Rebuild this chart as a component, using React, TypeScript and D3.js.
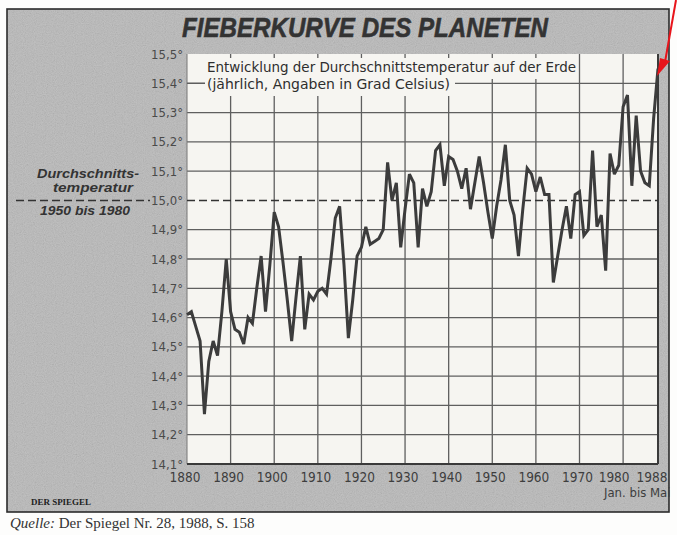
import React, { useRef, useEffect } from 'react';
import * as d3 from 'd3';

// annual mean temperature, 1880 .. 1988 (1988 = Jan. bis Mai)
const startYear = 1880;
const temps = [
  14.61, 14.62, 14.57, 14.52, 14.27, 14.45, 14.52, 14.47, 14.62, 14.80,
  14.62, 14.56, 14.55, 14.51, 14.60, 14.58, 14.70, 14.81, 14.62, 14.78,
  14.96, 14.91, 14.79, 14.66, 14.52, 14.67, 14.81, 14.56, 14.68, 14.66,
  14.69, 14.70, 14.68, 14.80, 14.94, 14.98, 14.78, 14.53, 14.66, 14.81,
  14.84, 14.91, 14.85, 14.86, 14.87, 14.90, 15.13, 15.00, 15.06, 14.84,
  14.97, 15.09, 15.06, 14.84, 15.04, 14.98, 15.03, 15.17, 15.19, 15.05,
  15.15, 15.14, 15.10, 15.04, 15.11, 14.97, 15.06, 15.15, 15.06, 14.96,
  14.87, 14.98, 15.07, 15.19, 15.00, 14.95, 14.81, 14.97, 15.11, 15.09,
  15.03, 15.08, 15.02, 15.02, 14.72, 14.81, 14.90, 14.98, 14.87, 15.02,
  15.03, 14.88, 14.90, 15.17, 14.91, 14.95, 14.76, 15.16, 15.09, 15.12,
  15.32, 15.36, 15.05, 15.29, 15.10, 15.06, 15.05, 15.28, 15.45,
];

const yTicks = [14.1, 14.2, 14.3, 14.4, 14.5, 14.6, 14.7, 14.8, 14.9, 15.0, 15.1, 15.2, 15.3, 15.4, 15.5];
const xTicks = [1880, 1890, 1900, 1910, 1920, 1930, 1940, 1950, 1960, 1970, 1980, 1988];
const gridYears = [1890, 1900, 1910, 1920, 1930, 1940, 1950, 1960, 1970, 1980];
const average = 15.0; // Durchschnitt 1950 bis 1980

const narrow = "'Liberation Sans Narrow', 'Arial Narrow', 'DejaVu Sans Condensed', sans-serif";
const bold = "'Liberation Sans', Arial, sans-serif";

const App: React.FC = () => {
  const ref = useRef<SVGSVGElement | null>(null);

  useEffect(() => {
    if (!ref.current) return;
    const width = 677;
    const height = 535;
    const plot = { left: 187, right: 658, top: 54, bottom: 464 };
    const paper = '#f6f5f1';
    const gridColor = '#5f5f5f';

    const svg = d3.select(ref.current);
    svg.selectAll('*').remove();
    svg.attr('width', width).attr('height', height);

    const x = d3.scaleLinear().domain([1880, 1988]).range([plot.left, plot.right]);
    const y = d3.scaleLinear().domain([14.1, 15.5]).range([plot.bottom, plot.top]);

    // grain for the printed gray panel
    const defs = svg.append('defs');
    const grain = defs.append('filter').attr('id', 'grain').attr('x', 0).attr('y', 0).attr('width', 1).attr('height', 1);
    grain.append('feTurbulence').attr('type', 'fractalNoise').attr('baseFrequency', 0.9).attr('numOctaves', 2).attr('seed', 7);
    grain.append('feColorMatrix').attr('type', 'matrix')
      .attr('values', '0.33 0.33 0.33 0 0  0.33 0.33 0.33 0 0  0.33 0.33 0.33 0 0  0 0 0 0 1');

    svg.append('rect').attr('width', width).attr('height', height).attr('fill', '#fdfdfc');

    // gray panel
    svg.append('rect').attr('x', 7).attr('y', 9).attr('width', 662).attr('height', 503)
      .attr('fill', '#b9b9b9');
    svg.append('rect').attr('x', 7).attr('y', 9).attr('width', 662).attr('height', 503)
      .attr('filter', 'url(#grain)').attr('opacity', 0.25);
    svg.append('rect').attr('x', 7).attr('y', 9).attr('width', 662).attr('height', 503)
      .attr('fill', 'none').attr('stroke', '#2b2b2b').attr('stroke-width', 1.6);

    // plot area
    svg.append('rect').attr('x', plot.left).attr('y', plot.top)
      .attr('width', plot.right - plot.left).attr('height', plot.bottom - plot.top)
      .attr('fill', paper);

    const grid = svg.append('g').attr('stroke', gridColor).attr('stroke-width', 1.3);
    grid.selectAll('line.h')
      .data(yTicks.filter((t) => t > 14.15 && t < 15.45 && Math.abs(t - average) > 0.01))
      .enter().append('line')
      .attr('x1', plot.left).attr('x2', plot.right)
      .attr('y1', (d) => y(d)).attr('y2', (d) => y(d));
    grid.selectAll('line.v')
      .data(gridYears)
      .enter().append('line')
      .attr('x1', (d) => x(d)).attr('x2', (d) => x(d))
      .attr('y1', plot.top).attr('y2', plot.bottom);

    // frame: left light, right and bottom dark
    svg.append('line').attr('x1', plot.left).attr('x2', plot.left).attr('y1', plot.top).attr('y2', plot.bottom)
      .attr('stroke', '#777').attr('stroke-width', 1);
    svg.append('line').attr('x1', plot.right).attr('x2', plot.right).attr('y1', plot.top).attr('y2', plot.bottom)
      .attr('stroke', '#3a3a3a').attr('stroke-width', 2);
    svg.append('line').attr('x1', plot.left).attr('x2', plot.right).attr('y1', plot.bottom).attr('y2', plot.bottom)
      .attr('stroke', '#3a3a3a').attr('stroke-width', 2);

    // white box behind the subtitle
    svg.append('rect').attr('x', 205).attr('y', 58).attr('width', 373).attr('height', 21).attr('fill', paper);
    svg.append('rect').attr('x', 205).attr('y', 78).attr('width', 250).attr('height', 18).attr('fill', paper);
    svg.append('text').attr('x', 207).attr('y', 72)
      .attr('font-family', narrow).attr('font-size', 13.5).attr('fill', '#2e2e2e')
      .attr('textLength', 369).attr('lengthAdjust', 'spacingAndGlyphs')
      .text('Entwicklung der Durchschnittstemperatur auf der Erde');
    svg.append('text').attr('x', 207).attr('y', 88.5)
      .attr('font-family', narrow).attr('font-size', 13.5).attr('fill', '#2e2e2e')
      .attr('textLength', 243).attr('lengthAdjust', 'spacingAndGlyphs')
      .text('(jährlich, Angaben in Grad Celsius)');

    // dashed average line 1950-1980
    const dash = svg.append('g').attr('stroke', '#333').attr('stroke-width', 1.6).attr('stroke-dasharray', '8,4');
    dash.append('line').attr('x1', 16).attr('x2', 150).attr('y1', y(average)).attr('y2', y(average));
    dash.append('line').attr('x1', plot.left).attr('x2', plot.right).attr('y1', y(average)).attr('y2', y(average));

    // temperature curve
    const line = d3.line<number>()
      .x((_, i) => x(startYear + i))
      .y((d) => y(d));
    svg.append('path')
      .datum(temps)
      .attr('fill', 'none')
      .attr('stroke', '#3c3c3c')
      .attr('stroke-width', 3)
      .attr('stroke-linejoin', 'miter')
      .attr('stroke-miterlimit', 3)
      .attr('d', line);

    // y labels
    const fmt = (v: number) => d3.format('.1f')(v).replace('.', ',') + '°';
    svg.append('g').selectAll('text')
      .data(yTicks)
      .enter().append('text')
      .attr('x', 183).attr('y', (d) => y(d) + 4.5)
      .attr('text-anchor', 'end')
      .attr('font-family', narrow).attr('font-size', 13).attr('fill', '#4a4a4a')
      .text(fmt);
    // short tick next to 15,4
    svg.append('line').attr('x1', plot.left).attr('x2', 205).attr('y1', y(15.4)).attr('y2', y(15.4))
      .attr('stroke', gridColor).attr('stroke-width', 1.3);

    // x labels
    svg.append('g').selectAll('text')
      .data(xTicks)
      .enter().append('text')
      .attr('x', (d) => x(d) + (d === 1980 ? -9 : d === 1988 ? -6 : -2))
      .attr('y', 482)
      .attr('text-anchor', 'middle')
      .attr('font-family', narrow).attr('font-size', 13.5).attr('fill', '#3e3e3e')
      .text((d) => String(d));
    svg.append('text').attr('x', 604).attr('y', 497)
      .attr('font-family', narrow).attr('font-size', 13).attr('fill', '#3e3e3e')
      .text('Jan. bis Mai');

    // left annotation
    const note = svg.append('g')
      .attr('font-family', bold)
      .attr('font-weight', 'bold').attr('font-style', 'italic')
      .attr('font-size', 12.5).attr('fill', '#333').attr('text-anchor', 'middle');
    note.append('text').attr('x', 88).attr('y', 178)
      .attr('textLength', 102).attr('lengthAdjust', 'spacingAndGlyphs').text('Durchschnitts-');
    note.append('text').attr('x', 93).attr('y', 192)
      .attr('textLength', 80).attr('lengthAdjust', 'spacingAndGlyphs').text('temperatur');
    note.append('text').attr('x', 85).attr('y', 215)
      .attr('textLength', 90).attr('lengthAdjust', 'spacingAndGlyphs').text('1950 bis 1980');

    // title
    svg.append('text').attr('x', 182).attr('y', 37)
      .attr('font-family', bold)
      .attr('font-weight', 900).attr('font-style', 'italic')
      .attr('font-size', 28).attr('fill', '#333')
      .attr('stroke', '#333').attr('stroke-width', 0.6)
      .attr('textLength', 366).attr('lengthAdjust', 'spacingAndGlyphs')
      .text('FIEBERKURVE DES PLANETEN');

    // logo
    svg.append('text').attr('x', 31).attr('y', 505)
      .attr('font-family', "'Liberation Serif', serif")
      .attr('font-weight', 'bold').attr('font-size', 9).attr('fill', '#222')
      .attr('textLength', 60).attr('lengthAdjust', 'spacingAndGlyphs')
      .text('DER SPIEGEL');

    // source
    const src = svg.append('text').attr('x', 10).attr('y', 528)
      .attr('font-family', "'Liberation Serif', 'Times New Roman', serif")
      .attr('font-size', 15).attr('fill', '#333');
    src.append('tspan').attr('font-style', 'italic').text('Quelle:');
    src.append('tspan').text(' Der Spiegel Nr. 28, 1988, S. 158');

    // red arrow
    svg.append('line').attr('x1', 676).attr('y1', 0).attr('x2', 665).attr('y2', 62)
      .attr('stroke', '#e8141b').attr('stroke-width', 2);
    svg.append('path').attr('d', 'M657,76 L660,58 L670,61 Z').attr('fill', '#e8141b');
  }, []);

  return (
    <svg ref={ref} style={{ position: 'absolute', left: 0, top: 0, display: 'block' }} />
  );
};

export default App;
